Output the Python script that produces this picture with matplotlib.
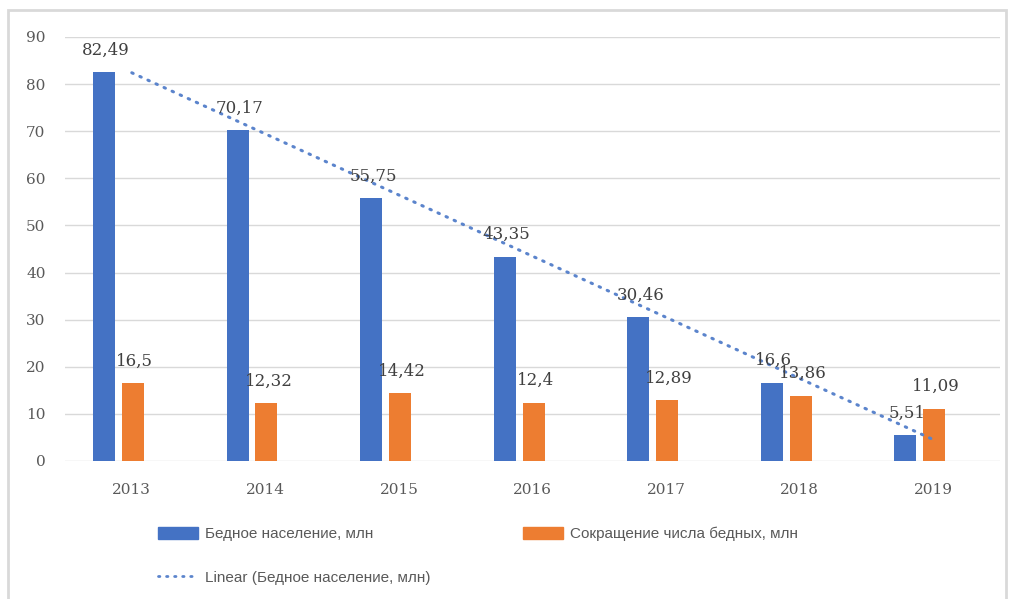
import numpy as np
import matplotlib
matplotlib.use("Agg")
import matplotlib.pyplot as plt
from matplotlib.patches import Rectangle, Patch
from matplotlib.lines import Line2D

years = ["2013", "2014", "2015", "2016", "2017", "2018", "2019"]
poor = [82.49, 70.17, 55.75, 43.35, 30.46, 16.6, 5.51]
reduction = [16.5, 12.32, 14.42, 12.4, 12.89, 13.86, 11.09]
poor_labels = ["82,49", "70,17", "55,75", "43,35", "30,46", "16,6", "5,51"]
red_labels = ["16,5", "12,32", "14,42", "12,4", "12,89", "13,86", "11,09"]
yticks = [0, 10, 20, 30, 40, 50, 60, 70, 80, 90]

BLUE = "#4472C4"
ORANGE = "#ED7D31"
TXT = "#595959"
GRID = "#d9d9d9"

fig = plt.figure(figsize=(10.16, 5.99), dpi=100)
ax = fig.add_axes([65/1016, (599-461)/599, 935/1016, (461-37)/599])

x = np.arange(len(years))
w = 0.165
shift = -0.1
off = 0.108
ax.bar(x + shift - off, poor, width=w, color=BLUE, zorder=3)
ax.bar(x + shift + off, reduction, width=w, color=ORANGE, zorder=3)

for xi, v, s in zip(x, poor, poor_labels):
    ax.annotate(s, (xi + shift - off, v), xytext=(2, 22), textcoords="offset pixels",
                ha="center", va="center", fontsize=12, family="DejaVu Serif", color="#404040", zorder=5)
for xi, v, s in zip(x, reduction, red_labels):
    ax.annotate(s, (xi + shift + off, v), xytext=(2, 22), textcoords="offset pixels",
                ha="center", va="center", fontsize=12, family="DejaVu Serif", color="#404040", zorder=5)

coef = np.polyfit(x, poor, 1)
trend = np.polyval(coef, x)
ax.plot(x, trend, color="#5b84cc", lw=2.2, linestyle=(0, (0.5, 2.4)), dash_capstyle="round", zorder=4)

ax.set_xlim(-0.5, 6.5)
ax.set_ylim(0, 90)
ax.set_yticks(yticks)
ax.set_yticklabels([str(t) for t in yticks], family="DejaVu Serif", fontsize=11, color=TXT)
ax.set_xticks(x)
ax.set_xticklabels(years, family="DejaVu Serif", fontsize=11, color=TXT)
ax.tick_params(axis="both", length=0)
ax.tick_params(axis="y", pad=14)
ax.tick_params(axis="x", pad=16)
for sp in ax.spines.values():
    sp.set_visible(False)
ax.grid(axis="y", color=GRID, lw=1, zorder=0)
ax.set_axisbelow(True)

# chart border
fig.patches.append(Rectangle((8/1016, -0.01), 998/1016, 1 - 10/599 + 0.01, transform=fig.transFigure,
                             fill=False, edgecolor=GRID, lw=2))

handles = [Patch(facecolor=BLUE, edgecolor=BLUE),
           Line2D([0], [0], color="#5b84cc", lw=2, linestyle=(0, (0.5, 2.4)), dash_capstyle="round"),
           Patch(facecolor=ORANGE, edgecolor=ORANGE)]
labels = ["Бедное население, млн", "Linear (Бедное население, млн)", "Сокращение числа бедных, млн"]
leg = fig.legend(handles, labels, loc="upper left", bbox_to_anchor=(158/1016, 1 - 527/599),
                 ncol=2, frameon=False, borderpad=0, borderaxespad=0,
                 handlelength=2.65, handleheight=0.8, handletextpad=0.45,
                 labelspacing=1.9, columnspacing=6.0,
                 prop={"family": ["Liberation Sans", "DejaVu Sans"], "size": 11})
for t in leg.get_texts():
    t.set_color(TXT)

fig.savefig("out.png", dpi=100)
